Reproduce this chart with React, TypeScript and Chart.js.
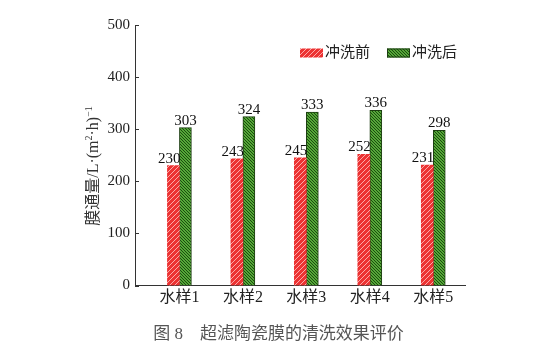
import React, { useEffect, useRef } from "react";
import { Chart, registerables } from "chart.js";

Chart.register(...registerables);

const categories = ["水样1", "水样2", "水样3", "水样4", "水样5"];
const beforeWash = [230, 243, 245, 252, 231];
const afterWash = [303, 324, 333, 336, 298];
const seriesNames = ["冲洗前", "冲洗后"];
const yTicks = [0, 100, 200, 300, 400, 500];
const caption = "图 8    超滤陶瓷膜的清洗效果评价";

const SERIF = "'Liberation Serif', 'Times New Roman', 'Noto Sans CJK SC', serif";

function makePattern(base: string, line: string, size: number, dir: "/" | "\\", lw: number) {
  const c = document.createElement("canvas");
  c.width = size;
  c.height = size;
  const g = c.getContext("2d")!;
  g.fillStyle = base;
  g.fillRect(0, 0, size, size);
  g.strokeStyle = line;
  g.lineWidth = lw;
  g.beginPath();
  if (dir === "/") {
    g.moveTo(-1, size + 1);
    g.lineTo(size + 1, -1);
    g.moveTo(-1, 1);
    g.lineTo(1, -1);
    g.moveTo(size - 1, size + 1);
    g.lineTo(size + 1, size - 1);
  } else {
    g.moveTo(-1, -1);
    g.lineTo(size + 1, size + 1);
    g.moveTo(size - 1, -1);
    g.lineTo(size + 1, 1);
    g.moveTo(-1, size - 1);
    g.lineTo(1, size + 1);
  }
  g.stroke();
  return g.createPattern(c, "repeat")!;
}

export default function App() {
  const ref = useRef<HTMLCanvasElement | null>(null);

  useEffect(() => {
    const canvas = ref.current!;
    const ctx = canvas.getContext("2d")!;
    const redPat = makePattern("#ec3232", "rgba(255,190,190,0.85)", 5, "/", 1);
    const greenPat = makePattern("#55a838", "#1c4a10", 3, "\\", 1);

    const extras = {
      id: "extras",
      afterDatasetsDraw(chart: any) {
        const c = chart.ctx;
        c.save();
        c.font = `15px ${SERIF}`;
        c.fillStyle = "#111";
        c.textBaseline = "alphabetic";
        chart.data.datasets.forEach((ds: any, di: number) => {
          const meta = chart.getDatasetMeta(di);
          meta.data.forEach((bar: any, i: number) => {
            const v = ds.data[i].y;
            if (di === 0) {
              c.textAlign = "right";
              c.fillText(String(v), bar.x + bar.width / 2 + 1, bar.y - 3);
            } else {
              c.textAlign = "center";
              c.fillText(String(v), bar.x, bar.y - 3);
            }
          });
        });
        c.restore();
      },
      afterDraw(chart: any) {
        const c = chart.ctx;
        const area = chart.chartArea;
        const ys = chart.scales.y;
        c.save();
        // inward y ticks
        c.strokeStyle = "#333";
        c.lineWidth = 1;
        yTicks.forEach((t) => {
          const py = Math.round(ys.getPixelForValue(t)) + 0.5;
          c.beginPath();
          c.moveTo(area.left, py);
          c.lineTo(area.left + 4, py);
          c.stroke();
        });
        // y axis title with superscripts
        c.translate(94, 166);
        c.rotate(-Math.PI / 2);
        const parts: [string, boolean][] = [
          ["膜通量/L·(m", false],
          ["2", true],
          ["·h)", false],
          ["−1", true],
        ];
        const normal = `16px ${SERIF}`;
        const sup = `10px ${SERIF}`;
        let total = 0;
        parts.forEach(([t, s]) => {
          c.font = s ? sup : normal;
          total += c.measureText(t).width;
        });
        let x = -total / 2;
        c.fillStyle = "#333";
        c.textBaseline = "middle";
        c.textAlign = "left";
        parts.forEach(([t, s]) => {
          c.font = s ? sup : normal;
          c.fillText(t, x, s ? -5 : 0);
          x += c.measureText(t).width;
        });
        c.restore();

        // legend
        c.save();
        c.font = `15px ${SERIF}`;
        c.textBaseline = "middle";
        c.textAlign = "left";
        let lx = 300;
        const ly = 53;
        chart.data.datasets.forEach((ds: any) => {
          c.fillStyle = ds.backgroundColor;
          c.fillRect(lx, ly - 4.5, 23, 9);
          if (ds.borderWidth) {
            c.strokeStyle = ds.borderColor;
            c.lineWidth = 1;
            c.strokeRect(lx + 0.5, ly - 4, 22, 8);
          }
          c.fillStyle = "#222";
          c.fillText(ds.label, lx + 25, ly);
          lx += 25 + c.measureText(ds.label).width + 17;
        });
        c.restore();

        // caption
        c.save();
        c.font = `17px ${SERIF}`;
        c.fillStyle = "#555";
        c.textAlign = "center";
        c.textBaseline = "middle";
        c.fillText(caption, chart.width / 2, 335);
        c.restore();
      },
    };

    const chart = new Chart(ctx, {
      type: "bar",
      data: {
        datasets: [
          {
            label: seriesNames[0],
            data: beforeWash.map((v, i) => ({ x: i + 1, y: v })),
            backgroundColor: redPat as any,
            borderWidth: 0,
            barThickness: 12,
          },
          {
            label: seriesNames[1],
            data: afterWash.map((v, i) => ({ x: i + 1, y: v })),
            backgroundColor: greenPat as any,
            borderColor: "#1b3d10",
            borderWidth: 1,
            barThickness: 12,
          },
        ],
      },
      options: {
        responsive: false,
        animation: false,
        layout: { padding: { left: 0, right: 92, top: 25, bottom: 0 } },
        plugins: {
          legend: { display: false },
          tooltip: { enabled: false },
        },
        scales: {
          x: {
            type: "linear",
            min: 0.3,
            max: 5.5,
            offset: false,
            grid: { display: false, drawTicks: false, offset: false },
            border: { display: true, color: "#333", width: 1 },
            afterBuildTicks: (scale: any) => {
              scale.ticks = categories.map((_, i) => ({ value: i + 1 }));
            },
            afterFit: (scale: any) => {
              scale.height = 67.5;
            },
            ticks: {
              padding: 3,
              color: "#222",
              font: { size: 16, family: SERIF },
              callback: (v: any) => categories[Math.round(Number(v)) - 1] ?? "",
              autoSkip: false,
              maxRotation: 0,
            },
          },
          y: {
            min: 0,
            max: 500,
            grid: { display: false, drawTicks: false },
            border: { display: true, color: "#333", width: 1 },
            afterBuildTicks: (scale: any) => {
              scale.ticks = yTicks.map((v) => ({ value: v }));
            },
            afterFit: (scale: any) => {
              scale.width = 135;
            },
            ticks: {
              padding: 5,
              color: "#222",
              font: { size: 15, family: SERIF },
            },
          },
        },
      },
      plugins: [extras],
    });
    return () => chart.destroy();
  }, []);

  return (
    <div style={{ position: "fixed", left: 0, top: 0, width: 557, height: 353, background: "#fff" }}>
      <canvas ref={ref} width={557} height={353} style={{ display: "block" }} />
    </div>
  );
}
